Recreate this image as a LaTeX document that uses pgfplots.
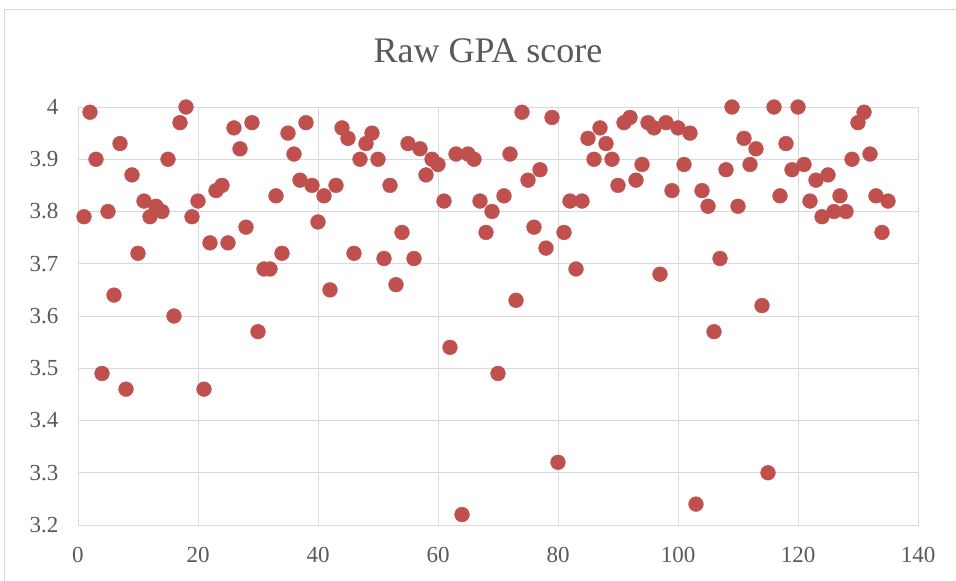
\documentclass[border=0pt]{standalone}
\usepackage{fontspec}
\setmainfont{Liberation Serif}
\usepackage{pgfplots}
\pgfplotsset{compat=1.18}
\definecolor{dotred}{HTML}{C0504D}
\definecolor{gridgray}{HTML}{D9D9D9}
\definecolor{textgray}{HTML}{595959}

\pgfplotstableread{
x y
1 3.79
2 3.99
3 3.90
4 3.49
5 3.80
6 3.64
7 3.93
8 3.46
9 3.87
10 3.72
11 3.82
12 3.79
13 3.81
14 3.80
15 3.90
16 3.60
17 3.97
18 4.00
19 3.79
20 3.82
21 3.46
22 3.74
23 3.84
24 3.85
25 3.74
26 3.96
27 3.92
28 3.77
29 3.97
30 3.57
31 3.69
32 3.69
33 3.83
34 3.72
35 3.95
36 3.91
37 3.86
38 3.97
39 3.85
40 3.78
41 3.83
42 3.65
43 3.85
44 3.96
45 3.94
46 3.72
47 3.90
48 3.93
49 3.95
50 3.90
51 3.71
52 3.85
53 3.66
54 3.76
55 3.93
56 3.71
57 3.92
58 3.87
59 3.90
60 3.89
61 3.82
62 3.54
63 3.91
64 3.22
65 3.91
66 3.90
67 3.82
68 3.76
69 3.80
70 3.49
71 3.83
72 3.91
73 3.63
74 3.99
75 3.86
76 3.77
77 3.88
78 3.73
79 3.98
80 3.32
81 3.76
82 3.82
83 3.69
84 3.82
85 3.94
86 3.90
87 3.96
88 3.93
89 3.90
90 3.85
91 3.97
92 3.98
93 3.86
94 3.89
95 3.97
96 3.96
97 3.68
98 3.97
99 3.84
100 3.96
101 3.89
102 3.95
103 3.24
104 3.84
105 3.81
106 3.57
107 3.71
108 3.88
109 4.00
110 3.81
111 3.94
112 3.89
113 3.92
114 3.62
115 3.30
116 4.00
117 3.83
118 3.93
119 3.88
120 4.00
121 3.89
122 3.82
123 3.86
124 3.79
125 3.87
126 3.80
127 3.83
128 3.80
129 3.90
130 3.97
131 3.99
132 3.91
133 3.83
134 3.76
135 3.82
}\gpadata

\begin{document}
\begin{tikzpicture}
\path[use as bounding box] (0pt,0pt) rectangle (956pt,581pt);
% chart area frame (left and top edges visible)
\draw[gridgray, line width=1pt] (4.5pt,0pt) -- (4.5pt,571pt) -- (956pt,571pt);
\node[text=textgray, font=\fontsize{36}{42}\selectfont, anchor=base] at (488pt,518pt) {Raw GPA score};
\begin{axis}[
    at={(78pt,56pt)}, anchor=south west,
    scale only axis,
    width=840pt, height=418pt,
    xmin=0, xmax=140,
    ymin=3.2, ymax=4,
    xtick distance=20,
    ytick distance=0.1,
    major tick length=0pt,
    xmajorgrids, ymajorgrids,
    grid style={gridgray, line width=1pt},
    axis line style={gridgray, line width=1pt},
    tick label style={text=textgray, font=\fontsize{23}{27}\selectfont},
    /pgf/number format/assume math mode=true,
    yticklabel style={/pgf/number format/fixed, /pgf/number format/precision=1, xshift=-16pt},
    xticklabel style={yshift=-19pt},
    clip=false,
]
\addplot[only marks, mark=*, mark size=7.4pt, mark options={fill=dotred, draw=dotred}]
    table[x=x, y=y] {\gpadata};
\end{axis}
\end{tikzpicture}
\end{document}
